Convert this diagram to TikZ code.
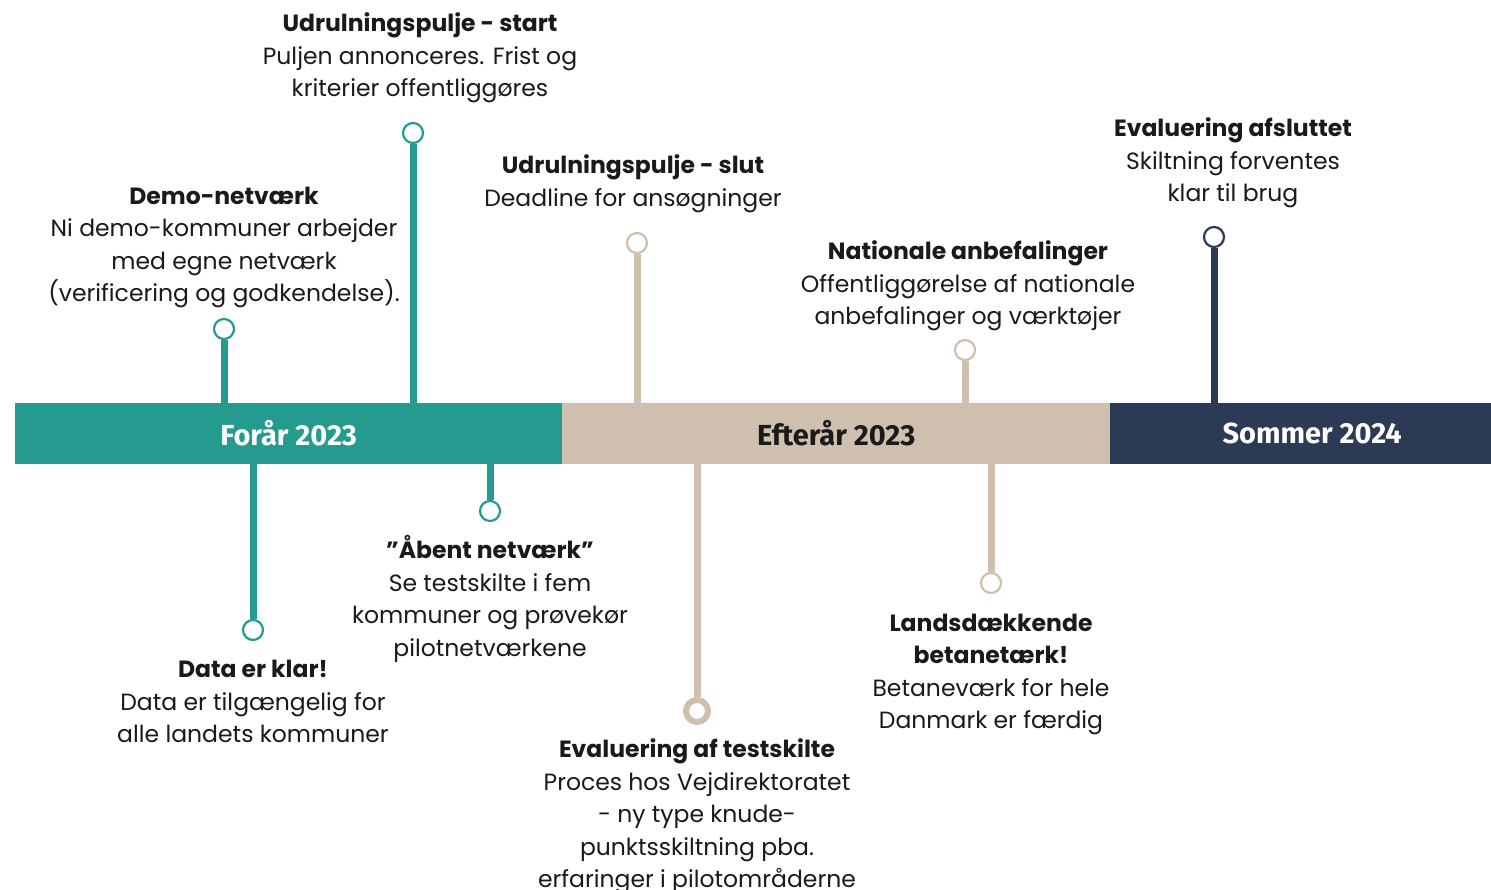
\documentclass[tikz,border=0pt]{standalone}
\usepackage{fontspec}
\setmainfont{Poppins}
\newfontfamily\barfont{Fira Sans}
\definecolor{teal1}{HTML}{259B8F}
\definecolor{beige1}{HTML}{CEBFAE}
\definecolor{navy1}{HTML}{2D3A55}
\definecolor{ink}{HTML}{1A1A1A}
\tikzset{
  seg/.style={rectangle, inner sep=0, minimum height=61pt, anchor=west, font=\barfont\bfseries\fontsize{29}{33}\selectfont},
  lbl/.style={align=center, text=ink, inner sep=0, yshift=-3pt, font=\fontsize{23.5}{32.5}\selectfont},
  mark/.style={circle, draw=#1, fill=white, line width=2.2pt, minimum size=20pt, inner sep=0},
  bigmark/.style={circle, draw=#1, fill=white, line width=6pt, minimum size=22pt, inner sep=0},
  stem/.style={draw=#1, line width=7pt},
}
\begin{document}
\begin{tikzpicture}[x=1pt,y=-1pt]
\clip (0,0) rectangle (1491,889);
\fill[white] (0,0) rectangle (1491,889);
% bar
\node[seg, fill=teal1, text=white, minimum width=547pt] (s1) at (15,433.5) {Forår 2023};
\node[seg, fill=beige1, text=ink, minimum width=548pt] (s2) at (562,433.5) {Efterår 2023};
\node[seg, fill=navy1, text=white, minimum width=404pt] (s3) at (1110,433.5) {Sommer 2024};
% markers
\node[mark=teal1] (m1) at (224,329) {};
\node[mark=teal1] (m2) at (413,133) {};
\node[mark=beige1] (m3) at (637,243) {};
\node[mark=beige1] (m4) at (965,350) {};
\node[mark=navy1] (m5) at (1214,237) {};
\node[mark=teal1] (m6) at (253,630) {};
\node[mark=teal1] (m7) at (490,511) {};
\node[bigmark=beige1] (m8) at (697,711) {};
\node[mark=beige1] (m9) at (991,583) {};
% stems
\path[stem=teal1] (m1.south) -- (m1.south |- s1.north);
\path[stem=teal1] (m2.south) -- (m2.south |- s1.north);
\path[stem=beige1] (m3.south) -- (m3.south |- s2.north);
\path[stem=beige1] (m4.south) -- (m4.south |- s2.north);
\path[stem=navy1] (m5.south) -- (m5.south |- s3.north);
\path[stem=teal1] (m6.north) -- (m6.north |- s1.south);
\path[stem=teal1] (m7.north) -- (m7.north |- s1.south);
\path[stem=beige1] (m8.north) -- (m8.north |- s2.south);
\path[stem=beige1] (m9.north) -- (m9.north |- s2.south);
% labels
\node[lbl] (t1) at (224,244.5) {\textbf{Demo-netværk}\\Ni demo-kommuner arbejder\\med egne netværk\\(verificering og godkendelse).};
\node[lbl] (t2) at (420,55) {\textbf{Udrulningspulje - start}\\Puljen annonceres. Frist og\\kriterier offentliggøres};
\node[lbl] (t3) at (633,181) {\textbf{Udrulningspulje - slut}\\Deadline for ansøgninger};
\node[lbl] (t4) at (968,283) {\textbf{Nationale anbefalinger}\\Offentliggørelse af nationale\\anbefalinger og værktøjer};
\node[lbl] (t5) at (1233,160) {\textbf{Evaluering afsluttet}\\Skiltning forventes\\klar til brug};
\node[lbl] (t6) at (253,698.5) {\textbf{Data er klar!}\\Data er tilgængelig for\\alle landets kommuner};
\node[lbl] (t7) at (490,596) {\textbf{\char"22 Åbent netværk\char"22}\\Se testskilte i fem\\kommuner og prøvekør\\pilotnetværkene};
\node[lbl] (t8) at (697,813.5) {\textbf{Evaluering af testskilte}\\Proces hos Vejdirektoratet\\- ny type knude-\\punktsskiltning pba.\\erfaringer i pilotområderne};
\node[lbl] (t9) at (991,671.5) {\textbf{Landsdækkende}\\\textbf{betanetærk!}\\Betaneværk for hele\\Danmark er færdig};
\end{tikzpicture}
\end{document}
